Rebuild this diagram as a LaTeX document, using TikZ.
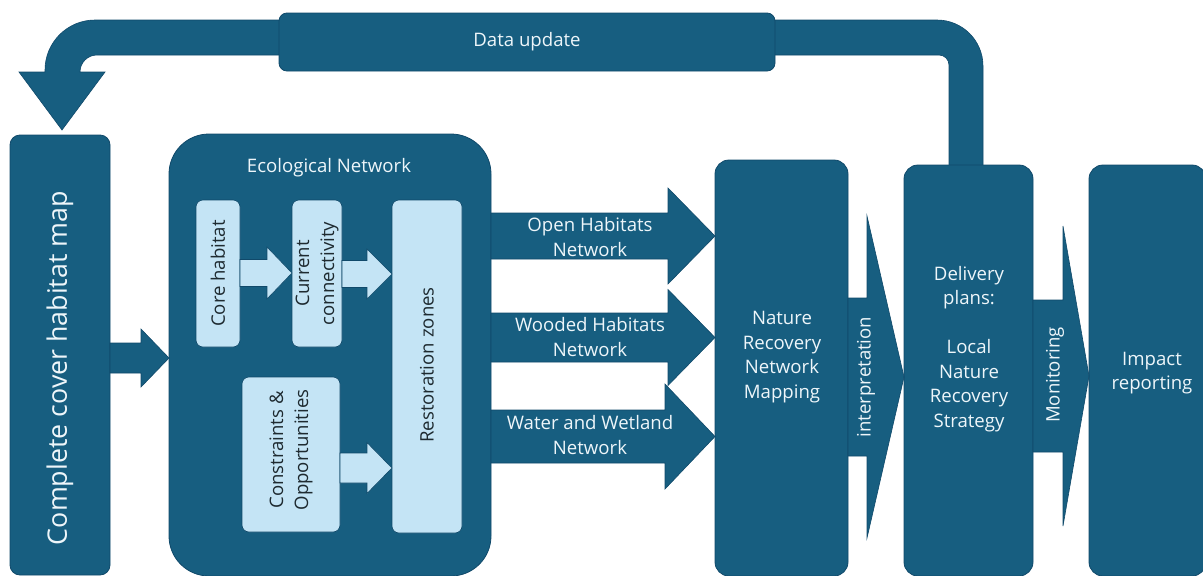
\documentclass[tikz,border=0pt]{standalone}
\usepackage{fontspec}
\setmainfont{Open Sans}
\usetikzlibrary{calc}

\definecolor{teal}{HTML}{175E80}
\definecolor{edge}{HTML}{10496A}
\definecolor{pale}{HTML}{C4E4F5}
\definecolor{ink}{HTML}{1E2A30}
\definecolor{snow}{HTML}{EEF6FA}

\tikzset{
  darkbox/.style={draw=edge, fill=teal, line width=0.8pt, inner sep=0pt, outer sep=0pt, rounded corners=14pt},
  palebox/.style={draw=edge, fill=pale, line width=0.6pt, inner sep=0pt, outer sep=0pt, rounded corners=7pt},
  darkarrow/.style={draw=edge, fill=teal, line width=0.6pt, line join=miter},
  palearrow/.style={draw=edge, fill=pale, line width=0.6pt, line join=miter},
  whitetext/.style={text=snow, align=center, font=\fontsize{18.6}{24.5}\selectfont, inner sep=0pt},
  inktext/.style={text=ink, align=center, font=\fontsize{18.6}{25}\selectfont, inner sep=0pt},
}

% block arrow from the east side of #2 to the west side of #3
% #4 centre line, #5 half shaft, #6 half head, #7 head length
\newcommand{\blockarrow}[7][darkarrow]{%
  \path[#1] (#2.east |- 0,{#4-#5})
    -- ($(#3.west |- 0,{#4-#5})+(-#7,0)$)
    -- ($(#3.west |- 0,{#4-#6})+(-#7,0)$)
    -- (#3.west |- 0,#4)
    -- ($(#3.west |- 0,{#4+#6})+(-#7,0)$)
    -- ($(#3.west |- 0,{#4+#5})+(-#7,0)$)
    -- (#2.east |- 0,{#4+#5}) -- cycle;}

\begin{document}
\begin{tikzpicture}[x=1pt, y=-1pt]
\useasboundingbox (0,0) rectangle (1203,576);

% feedback pipe from the delivery plans back to the habitat map
\path[darkarrow]
  (19,72) -- (45,72) -- (45,70)
  .. controls (45,42.4) and (67.4,20) .. (95,20)
  -- (937,20)
  .. controls (962.4,20) and (983,40.6) .. (983,66)
  -- (983,175) -- (949,175) -- (949,65)
  .. controls (949,59.5) and (944.5,55) .. (939,55)
  -- (97,55)
  .. controls (87.6,55) and (80,62.6) .. (80,72)
  -- (105,72) -- (62,130) -- cycle;
\node[darkbox, rounded corners=8pt, minimum width=496, minimum height=58] (data) at (527,42) {};
\node[whitetext] (datalbl) at (527,42) {Data update};

% main column boxes
\node[darkbox, rounded corners=10pt, minimum width=100, minimum height=440] (cover) at (60,355) {};
\node[whitetext, rotate=90, font=\fontsize{26.8}{30}\selectfont] (coverlbl) at (60,368) {Complete cover habitat map};

\node[darkbox, rounded corners=40pt, minimum width=322, minimum height=442] (eco) at (330,355) {};
\node[whitetext] (ecolbl) at (329,168) {Ecological Network};

\node[darkbox, minimum width=133, minimum height=416] (nrn) at (781.5,368) {};
\node[whitetext] (nrnlbl) at (782,357) {Nature\\Recovery\\Network\\Mapping};

\node[darkbox, minimum width=129, minimum height=411] (deliv) at (968.5,370.5) {};
\node[whitetext] (delivlbl) at (969,349) {Delivery\\plans:\\[24.5pt]Local\\Nature\\Recovery\\Strategy};

\node[darkbox, minimum width=117, minimum height=411] (impact) at (1147.5,370.5) {};
\node[whitetext] (impactlbl) at (1152,373) {Impact\\reporting};

% inner steps of the ecological network
\node[palebox, minimum width=44, minimum height=147] (core) at (218,273.5) {};
\node[inktext, rotate=90] at (core) {Core habitat};
\node[palebox, minimum width=50, minimum height=147] (conn) at (317,273.5) {};
\node[inktext, rotate=90] at (conn) {Current\\connectivity};
\node[palebox, minimum width=98, minimum height=155] (constr) at (291,454.5) {};
\node[inktext, rotate=90] at (291,450) {Constraints \&\\Opportunities};
\node[palebox, minimum width=70, minimum height=333] (resto) at (427,366.5) {};
\node[inktext, rotate=90] at (427,365) {Restoration zones};

\blockarrow[palearrow]{core}{conn}{273}{13.5}{26}{25}
\blockarrow[palearrow]{conn}{resto}{274}{13.5}{25}{25}
\blockarrow[palearrow]{constr}{resto}{468}{15}{25.5}{25}

% flow between the main boxes
\blockarrow{cover}{eco}{358}{15}{29}{28}
\blockarrow{eco}{nrn}{236}{23}{48}{47}
\blockarrow{eco}{nrn}{337.5}{24.5}{48}{47}
\blockarrow{eco}{nrn}{436.5}{26.5}{52.5}{50}
\blockarrow{nrn}{deliv}{377}{79}{161}{37}
\blockarrow{deliv}{impact}{376}{76}{150}{26}

\node[whitetext] (open) at (590,237) {Open Habitats\\Network};
\node[whitetext] (wood) at (590,337) {Wooded Habitats\\Network};
\node[whitetext] (water) at (590,435) {Water and Wetland\\Network};
\node[whitetext, rotate=90] (interp) at (866,377) {interpretation};
\node[whitetext, rotate=90] (monit) at (1055,375) {Monitoring};
\end{tikzpicture}
\end{document}
